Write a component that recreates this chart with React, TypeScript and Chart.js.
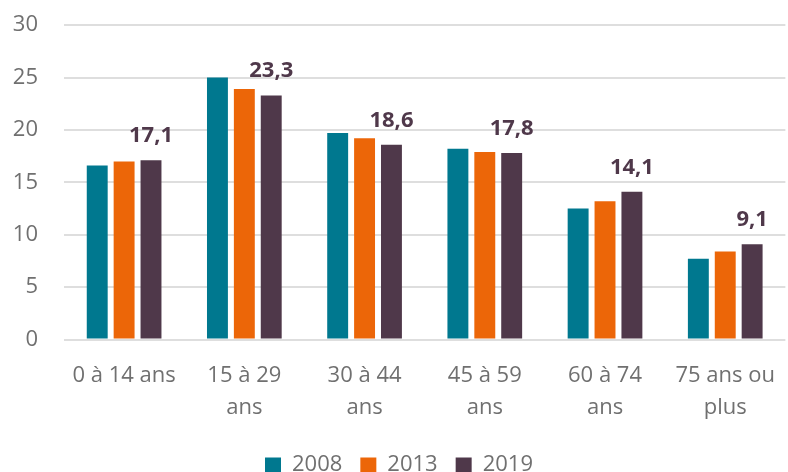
import React, { useEffect, useRef } from "react";
import { Chart, registerables } from "chart.js";

Chart.register(...registerables);

const categories: (string | string[])[] = [
  "0 à 14 ans",
  ["15 à 29", "ans"],
  ["30 à 44", "ans"],
  ["45 à 59", "ans"],
  ["60 à 74", "ans"],
  ["75 ans ou", "plus"],
];
const series2008 = [16.6, 25.0, 19.7, 18.2, 12.5, 7.7];
const series2013 = [17.0, 23.9, 19.2, 17.9, 13.2, 8.4];
const series2019 = [17.1, 23.3, 18.6, 17.8, 14.1, 9.1];
const seriesNames = ["2008", "2013", "2019"];
const yTicks = [0, 5, 10, 15, 20, 25, 30];

const COLORS = ["#00788F", "#EC6608", "#4F384A"];
const FONT = "'Open Sans', sans-serif";

const labelPlugin = {
  id: "valueLabels",
  afterDatasetsDraw(chart: any) {
    const ctx = chart.ctx;
    const meta = chart.getDatasetMeta(2);
    const data = chart.data.datasets[2].data as number[];
    ctx.save();
    ctx.font = `bold 22px ${FONT}`;
    ctx.fillStyle = "#4F384A";
    ctx.textAlign = "center";
    ctx.textBaseline = "alphabetic";
    meta.data.forEach((el: any, i: number) => {
      const txt = data[i].toFixed(1).replace(".", ",");
      ctx.fillText(txt, el.x, el.y - 18);
    });
    ctx.restore();
  },
};

export default function App() {
  const ref = useRef<HTMLCanvasElement>(null);
  useEffect(() => {
    document.body.style.margin = "0";
    const chart = new Chart(ref.current!, {
      type: "bar",
      data: {
        labels: categories,
        datasets: [series2008, series2013, series2019].map((d, i) => ({
          label: seriesNames[i],
          data: d,
          backgroundColor: COLORS[i],
          categoryPercentage: 0.671,
          barPercentage: 0.778,
        })),
      },
      options: {
        responsive: false,
        animation: false,
        layout: { padding: { top: 0, left: 10, right: 0, bottom: -14 } },
        plugins: {
          tooltip: { enabled: false },
          legend: {
            position: "bottom",
            labels: {
              boxWidth: 16,
              boxHeight: 15,
              padding: 18,
              color: "#707070",
              font: { family: FONT, size: 22 },
            },
          },
        },
        scales: {
          x: {
            grid: { display: false },
            border: { display: false },
            ticks: {
              color: "#707070",
              font: { family: FONT, size: 22, lineHeight: 1.42 },
              padding: 13,
              maxRotation: 0,
              autoSkip: false,
            },
          },
          y: {
            min: 0,
            max: 30,
            afterBuildTicks: (s: any) => {
              s.ticks = yTicks.map((v) => ({ value: v }));
            },
            afterFit: (s: any) => {
              s.width = 54;
            },
            grid: { color: "#dedede", lineWidth: 2, drawTicks: false },
            border: { display: false },
            ticks: {
              color: "#707070",
              font: { family: FONT, size: 22 },
              padding: 26,
            },
          },
        },
      },
      plugins: [labelPlugin],
    });
    return () => chart.destroy();
  }, []);
  return (
    <div style={{ width: 788, height: 472, overflow: "hidden" }}>
      <canvas
        ref={ref}
        width={788}
        height={486}
        style={{ display: "block", marginTop: -14 }}
      />
    </div>
  );
}
